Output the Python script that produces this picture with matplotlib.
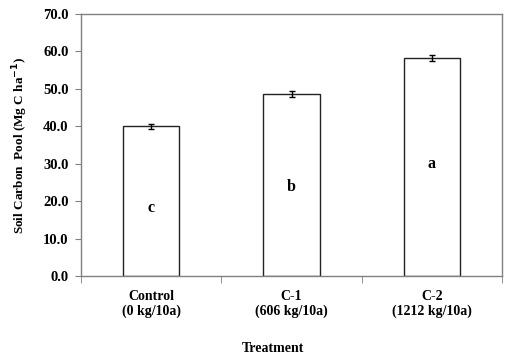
import matplotlib.pyplot as plt
import numpy as np

treatments = ['Control\n(0 kg/10a)', 'C-1\n(606 kg/10a)', 'C-2\n(1212 kg/10a)']
carbon_pool = [40.0, 48.5, 58.2]
errors = [0.7, 0.8, 0.75]
letters = ['c', 'b', 'a']
yticks = np.arange(0, 71, 10)

plt.rcParams['font.family'] = ['Liberation Serif', 'DejaVu Serif']
plt.rcParams['font.weight'] = 'bold'

fig = plt.figure(figsize=(5.09, 3.6), dpi=100)
ax = fig.add_axes([81 / 509, 1 - 276 / 360, 421 / 509, 262 / 360])

x = np.arange(len(treatments))
ax.bar(x, carbon_pool, width=0.4, color='white', edgecolor='#222222', linewidth=1.0,
       yerr=errors, capsize=2.5, error_kw=dict(ecolor='black', elinewidth=1.0, capthick=1.0))

# significance letters, roughly mid-bar
for xi, v, lab in zip(x, carbon_pool, letters):
    ax.text(xi, v / 2 - 0.4 + 1.35 * (xi - 1), lab, ha='center', va='center',
            fontsize=11.5, fontweight='bold')

ax.set_xlim(-0.5, 2.5)
ax.set_ylim(0, 70)
ax.set_yticks(yticks)
ax.set_yticklabels([f'{t:.1f}' for t in yticks], fontsize=10.5, fontweight='bold')
ax.set_xticks(x)
ax.set_xticklabels(treatments, fontsize=10, fontweight='bold', linespacing=1.2)
ax.set_xticks([-0.5, 0.5, 1.5, 2.5], minor=True)
ax.tick_params(axis='x', which='major', length=0, pad=10)
ax.tick_params(axis='x', which='minor', length=5, color='#808080', direction='out')
ax.tick_params(axis='y', length=4, color='#808080', direction='out', pad=5)

for s in ax.spines.values():
    s.set_color('#808080')
    s.set_linewidth(1.0)

ax.set_ylabel('Soil Carbon  Pool (Mg C ha$^{\\mathbf{-1}}$)', fontsize=9.5, fontweight='bold', labelpad=9)
fig.text(273 / 509, 1 - 348 / 360, 'Treatment', ha='center', va='center', fontsize=10, fontweight='bold')

fig.savefig('out.png', dpi=100)
